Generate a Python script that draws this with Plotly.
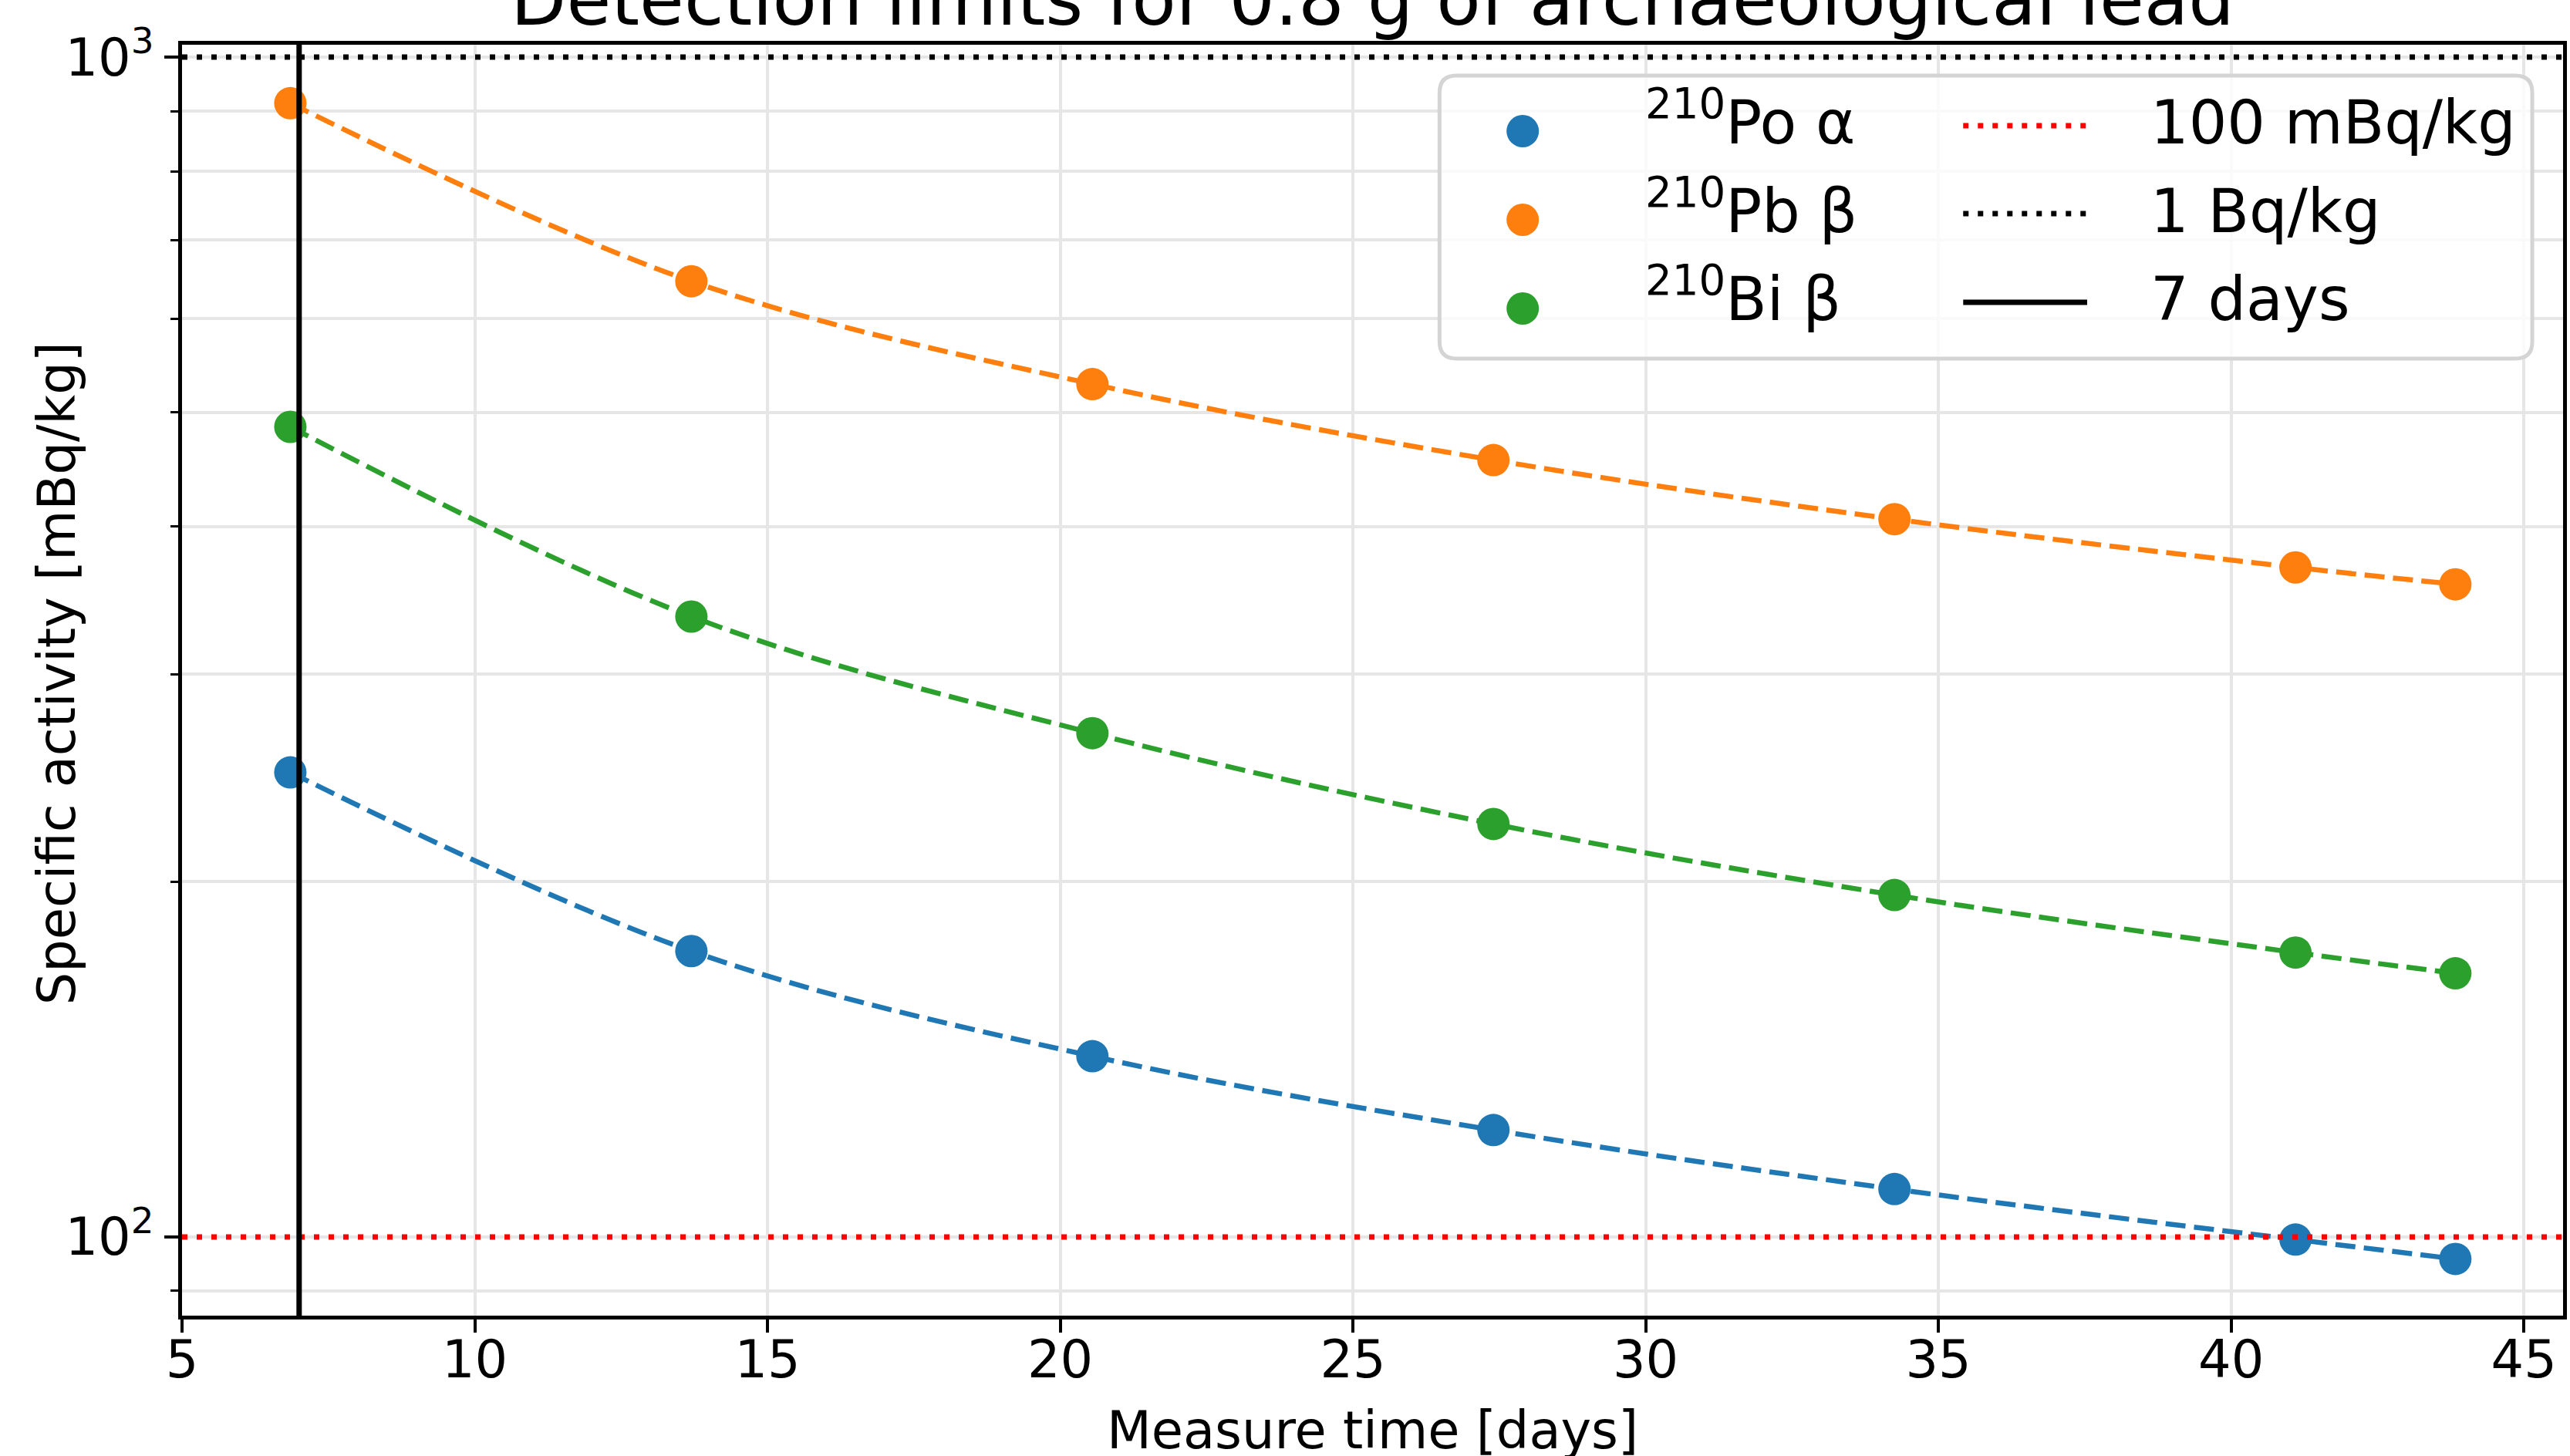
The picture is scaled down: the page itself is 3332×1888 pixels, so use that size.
import plotly.graph_objects as go

# Measurement durations and detection limits (mBq/kg)
days = [6.85, 13.70, 20.55, 27.40, 34.25, 41.10, 43.83]
po210_alpha = [247.6, 174.7, 142.3, 123.2, 109.8, 99.5, 95.8]
pb210_beta = [914.0, 645.7, 528.3, 455.5, 405.9, 369.4, 357.4]
bi210_beta = [486.0, 335.6, 267.3, 223.9, 194.9, 174.2, 167.3]

series_names = ["<sup>210</sup>Po α", "<sup>210</sup>Pb β", "<sup>210</sup>Bi β"]
series_values = [po210_alpha, pb210_beta, bi210_beta]
series_colors = ["#1f77b4", "#ff7f0e", "#2ca02c"]

ref_levels = [100, 1000]
ref_names = ["100 mBq/kg", "1 Bq/kg"]
ref_colors = ["red", "black"]
week_days = 7
week_name = "7 days"

x_ticks = [5, 10, 15, 20, 25, 30, 35, 40, 45]
y_major = [100, 1000]
y_major_text = ["10<sup>2</sup>", "10<sup>3</sup>"]
y_minor = [90, 200, 300, 400, 500, 600, 700, 800, 900]

W, H = 3332, 1888
PL, PR, PT, PB = 236, 3328, 58, 1706
FONT = "DejaVu Sans"
GRID = "#e6e6e6"


def px_x(px):
    return (px - PL) / (PR - PL)


def px_y(py):
    return (PB - py) / (PB - PT)


fig = go.Figure()

for name, vals, col in zip(series_names, series_values, series_colors):
    fig.add_trace(go.Scatter(
        x=days, y=vals, name=name, mode="lines+markers",
        line=dict(color=col, width=6.5, dash="26px,11px", shape="spline"),
        marker=dict(color=col, size=42, line=dict(width=0)),
        showlegend=False,
    ))

shapes = []
# Reference activity levels and the one-week mark
for lvl, col in zip(ref_levels, ref_colors):
    shapes.append(dict(type="line", xref="paper", x0=0, x1=1, yref="y", y0=lvl, y1=lvl,
                       line=dict(color=col, width=7, dash="7px,12px"), layer="above"))
shapes.append(dict(type="line", xref="x", x0=week_days, x1=week_days, yref="paper", y0=0, y1=1,
                   line=dict(color="black", width=7), layer="above"))

# Legend frame (rounded box)
bx0, bx1, by0, by1 = px_x(1869), px_x(3288), px_y(465), px_y(98)
rx, ry = 22 / (PR - PL), 22 / (PB - PT)
path = (f"M {bx0+rx},{by1} L {bx1-rx},{by1} Q {bx1},{by1} {bx1},{by1-ry} "
        f"L {bx1},{by0+ry} Q {bx1},{by0} {bx1-rx},{by0} L {bx0+rx},{by0} "
        f"Q {bx0},{by0} {bx0},{by0+ry} L {bx0},{by1-ry} Q {bx0},{by1} {bx0+rx},{by1} Z")
shapes.append(dict(type="path", path=path, xref="paper", yref="paper",
                   fillcolor="rgba(255,255,255,0.8)", line=dict(color="#d4d4d4", width=5),
                   layer="above"))

row_marker_y = [170, 285, 400]
row_line_y = [163, 277, 392]
row_base_y = [188, 303, 417]

annotations = []
for i, (name, col) in enumerate(zip(series_names, series_colors)):
    shapes.append(dict(type="circle", xref="paper", yref="paper",
                       xsizemode="pixel", ysizemode="pixel",
                       xanchor=px_x(1977), yanchor=px_y(row_marker_y[i]),
                       x0=-21, x1=21, y0=-21, y1=21,
                       fillcolor=col, line=dict(width=0), layer="above"))
    annotations.append(dict(text=name, xref="paper", yref="paper", x=px_x(2134),
                            y=px_y(row_base_y[i] + 18), xanchor="left", yanchor="bottom",
                            showarrow=False, font=dict(family=FONT, size=78, color="black")))

line_styles = [dict(color="red", width=7, dash="7px,12px"),
               dict(color="black", width=7, dash="7px,12px"),
               dict(color="black", width=7)]
line_labels = ref_names + [week_name]
for i, (lab, st) in enumerate(zip(line_labels, line_styles)):
    shapes.append(dict(type="line", xref="paper", yref="paper",
                       x0=px_x(2549), x1=px_x(2710), y0=px_y(row_line_y[i]), y1=px_y(row_line_y[i]),
                       line=st, layer="above"))
    annotations.append(dict(text=lab, xref="paper", yref="paper", x=px_x(2790),
                            y=px_y(row_base_y[i] + 18), xanchor="left", yanchor="bottom",
                            showarrow=False, font=dict(family=FONT, size=78, color="black")))

# Axis titles
annotations.append(dict(text="Measure time [days]", xref="paper", yref="paper",
                        x=0.5, y=px_y(1855), xanchor="center", yanchor="middle",
                        showarrow=False, font=dict(family=FONT, size=67, color="black")))
annotations.append(dict(text="Specific activity [mBq/kg]", xref="paper", yref="paper",
                        x=px_x(74), y=px_y(873), xanchor="center", yanchor="middle",
                        textangle=-90, showarrow=False,
                        font=dict(family=FONT, size=67, color="black")))

fig.update_layout(
    width=W, height=H,
    margin=dict(l=PL, r=W - PR, t=PT, b=H - PB),
    paper_bgcolor="white", plot_bgcolor="white",
    font=dict(family=FONT, size=67, color="black"),
    title=dict(text="Detection limits for 0.8 g of archaeological lead",
               x=0.5, xref="paper", xanchor="center",
               y=1 - 32 / H, yref="container", yanchor="bottom",
               font=dict(family=FONT, size=94, color="black")),
    shapes=shapes,
    annotations=annotations,
    showlegend=False,
)

fig.update_xaxes(
    range=[5, 45.67], tickmode="array", tickvals=x_ticks,
    ticks="outside", ticklen=17, tickwidth=4, tickcolor="black",
    ticklabelstandoff=-22,
    showline=True, linecolor="black", linewidth=5, mirror=True,
    showgrid=True, gridcolor=GRID, gridwidth=4, zeroline=False,
    tickfont=dict(family=FONT, size=67, color="black"),
)
fig.update_yaxes(
    type="log", range=[1.9333, 3.0105],
    tickmode="array", tickvals=y_major, ticktext=y_major_text,
    ticks="outside", ticklen=18, tickwidth=4, tickcolor="black",
    showline=True, linecolor="black", linewidth=5, mirror=True,
    showgrid=True, gridcolor=GRID, gridwidth=4, zeroline=False,
    tickfont=dict(family=FONT, size=67, color="black"),
    minor=dict(tickmode="array", tickvals=y_minor, ticks="outside", ticklen=10,
               tickwidth=3, tickcolor="black", showgrid=True, gridcolor=GRID, gridwidth=4),
)

fig.write_html("out.html")
